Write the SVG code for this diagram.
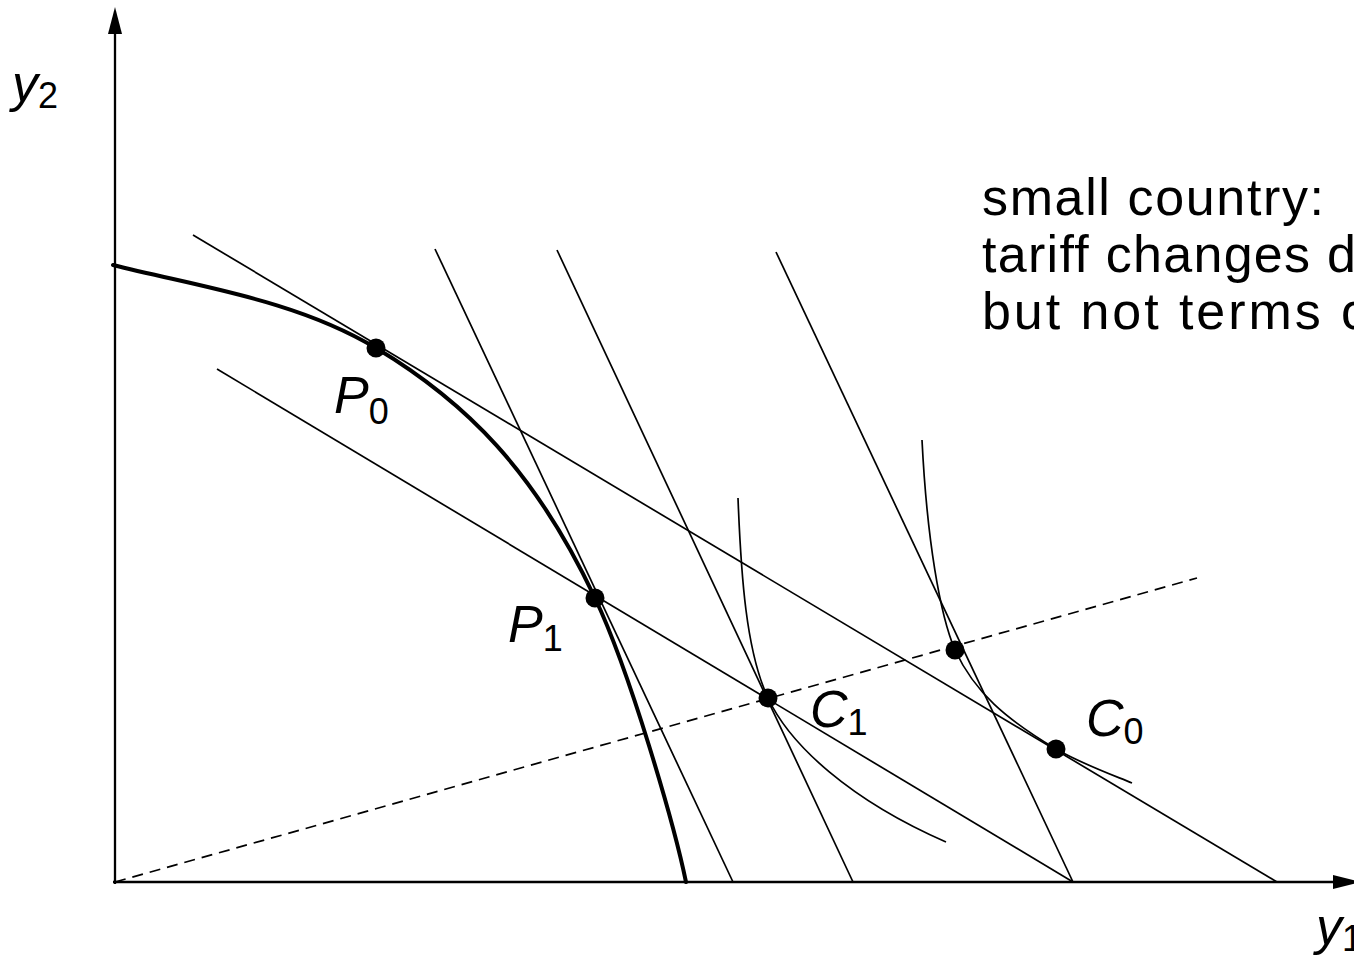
<svg xmlns="http://www.w3.org/2000/svg" width="1354" height="957" viewBox="0 0 1354 957">
<style>
.axis{stroke:#000;stroke-width:2.3;fill:none}
.thin{stroke:#000;stroke-width:1.7;fill:none}
.thick{stroke:#000;stroke-width:4;fill:none;stroke-linecap:round}
.dash{stroke:#000;stroke-width:1.7;fill:none;stroke-dasharray:11 7}
.dot{fill:#000}
.lbl{font-family:"Liberation Sans",Arial,sans-serif;font-size:52px;fill:#000}
.it{font-style:italic}
.sub{font-size:36px;font-style:normal}
</style>
<rect width="1354" height="957" fill="#fff"/>
<g id="axes">
<line class="axis" x1="115" y1="884" x2="115" y2="30"/>
<polygon points="115,7 108,34 122,34" fill="#000"/>
<line class="axis" x1="113" y1="882" x2="1336" y2="882"/>
<polygon points="1361,882 1333,875 1333,889" fill="#000"/>
</g>
<g id="connectors">
<line class="thin" x1="193" y1="235" x2="1277" y2="882"/>
<line class="thin" x1="217" y1="369" x2="1073" y2="882"/>
<line class="thin" x1="435" y1="249" x2="733" y2="882"/>
<line class="thin" x1="557" y1="250" x2="853" y2="882"/>
<line class="thin" x1="776" y1="252" x2="1073" y2="882"/>
<line class="dash" x1="115" y1="882" x2="1197" y2="578"/>
<path class="thin" d="M738,498 C741,575 746,651 768,698 C790,745 850,800 946,842"/>
<path class="thin" d="M922,440 C927,540 940,615 955,650 C975,693 1006,719 1056,749 C1080,763 1110,774 1132,783"/>
</g>
<g id="frontier">
<path class="thick" d="M113,265 C200,287 296,300 376,348 C466,402 535,471 595,598 C630,672 674,824 686,882"/>
</g>
<g id="P0"><circle class="dot" cx="376" cy="348" r="9.5"/><text class="lbl" x="334" y="413"><tspan class="it">P</tspan><tspan class="sub" dy="11">0</tspan></text></g>
<g id="P1"><circle class="dot" cx="595" cy="598" r="9.5"/><text class="lbl" x="508" y="642"><tspan class="it">P</tspan><tspan class="sub" dy="9">1</tspan></text></g>
<g id="C1"><circle class="dot" cx="768" cy="698" r="9.5"/><text class="lbl" x="810" y="727"><tspan class="it">C</tspan><tspan class="sub" dy="8">1</tspan></text></g>
<g id="M"><circle class="dot" cx="955" cy="650" r="9.5"/></g>
<g id="C0"><circle class="dot" cx="1056" cy="749" r="9.5"/><text class="lbl" x="1086" y="736"><tspan class="it">C</tspan><tspan class="sub" dy="8">0</tspan></text></g>
<g id="y2"><text class="lbl" x="12" y="101"><tspan class="it">y</tspan><tspan class="sub" dy="7">2</tspan></text></g>
<g id="y1"><text class="lbl" x="1316" y="944"><tspan class="it">y</tspan><tspan class="sub" dy="7">1</tspan></text></g>
<g id="note">
<text class="lbl" x="982" y="215" textLength="342" lengthAdjust="spacing">small country:</text>
<text class="lbl" x="982" y="272" textLength="374" lengthAdjust="spacing">tariff changes d</text>
<text class="lbl" x="982" y="329" textLength="388" lengthAdjust="spacing">but not terms o</text>
</g>
</svg>
